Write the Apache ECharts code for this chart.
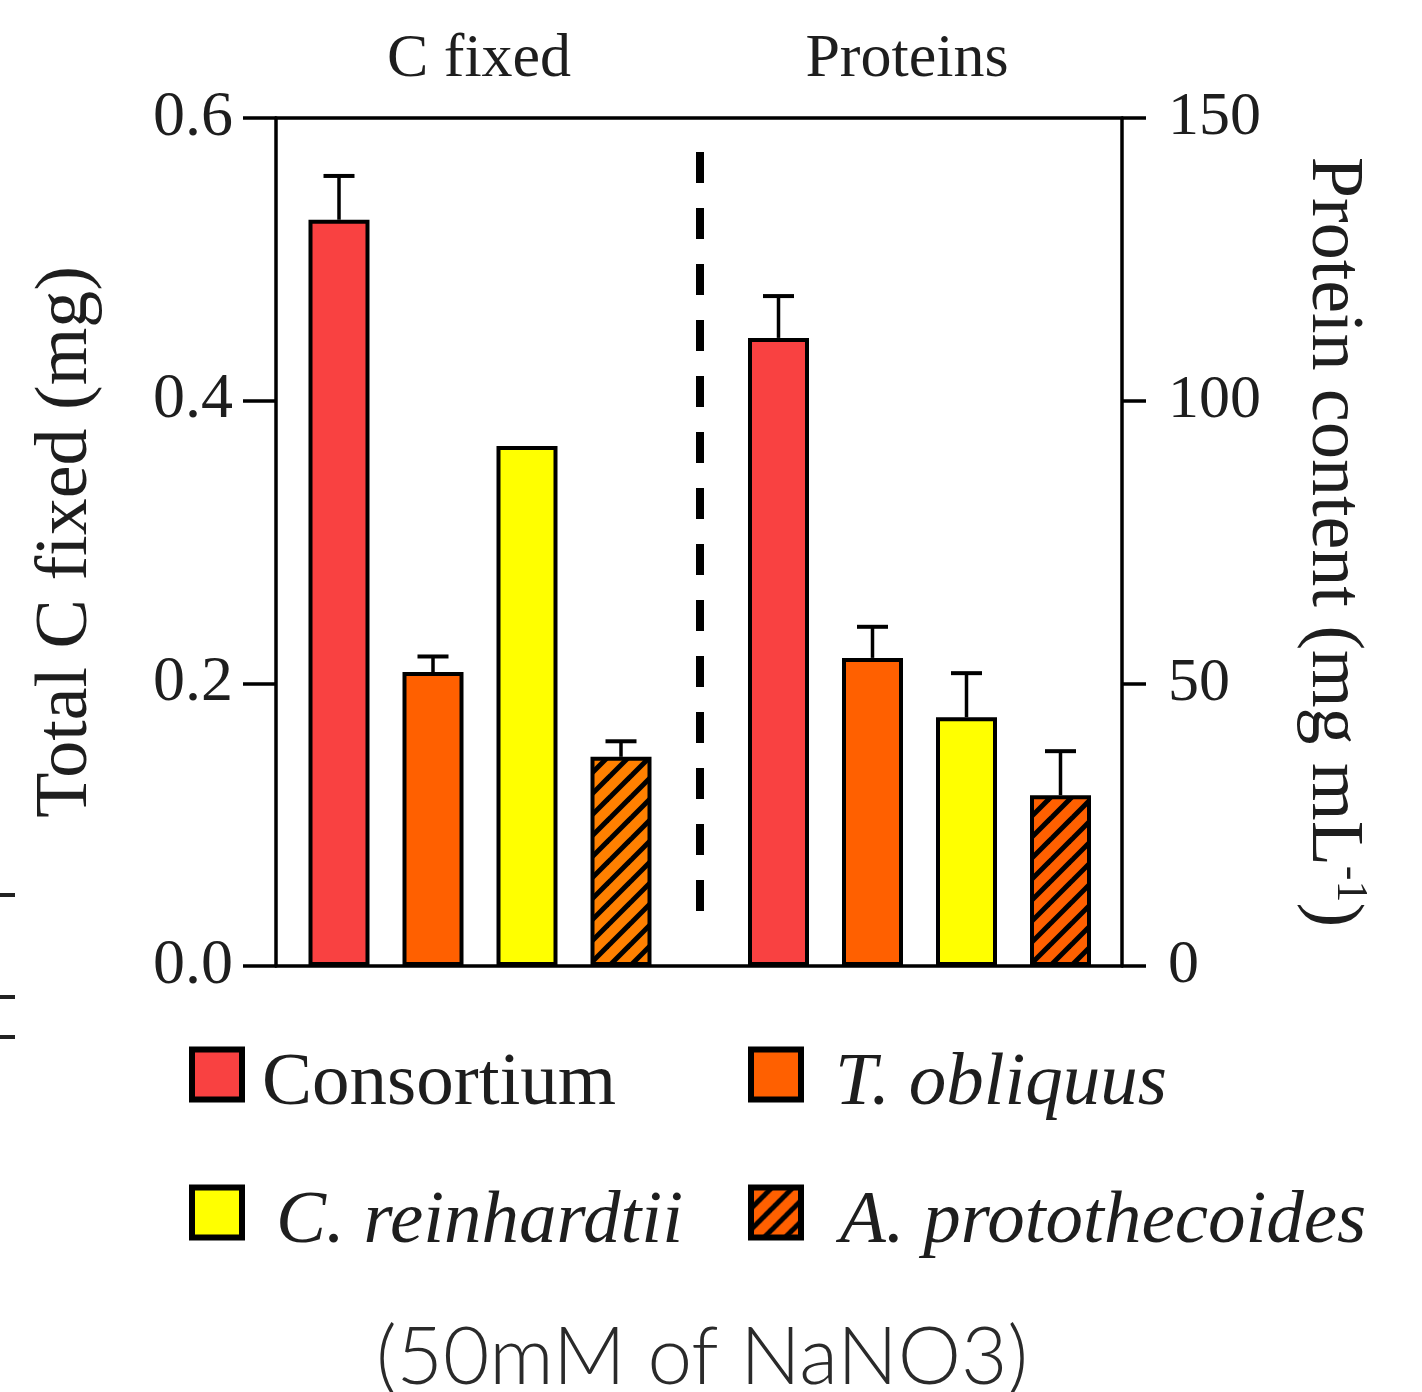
<!DOCTYPE html>
<html>
<head>
<meta charset="utf-8">
<script src="https://cdn.jsdelivr.net/npm/echarts@6/dist/echarts.min.js"></script>
<style>
html,body{margin:0;padding:0;background:#fff;}
#chart{width:1422px;height:1392px;}
</style>
</head>
<body>
<div id="chart"></div>
<script>
// ---- data ----
const species = ['Consortium', 'T. obliquus', 'C. reinhardtii', 'A. protothecoides'];
const groupTitles = ['C fixed', 'Proteins'];
const cFixed = [0.528, 0.208, 0.368, 0.148];
const cFixedErr = [0.031, 0.011, 0, 0.011];
const protein = [111.1, 54.5, 44.0, 30.2];
const proteinErr = [7.4, 5.5, 7.8, 7.8];
const leftTicks = [0.0, 0.2, 0.4, 0.6];
const rightTicks = [0, 50, 100, 150];
const footnote = '(50mM of NaNO3)';

// ---- styles ----
const SERIF = '"Liberation Serif", "Times New Roman", serif';
const TXT = '#1e1e1e';
function hatch(fill) {
  const s = 21, c = document.createElement('canvas');
  c.width = s; c.height = s;
  const ctx = c.getContext('2d');
  ctx.fillStyle = fill; ctx.fillRect(0, 0, s, s);
  ctx.strokeStyle = '#000'; ctx.lineWidth = 5;
  for (let k = -1; k <= 1; k++) {
    ctx.beginPath(); ctx.moveTo(k * s - 2, s + 2); ctx.lineTo(k * s + s + 2, -2); ctx.stroke();
  }
  return { image: c, repeat: 'repeat' };
}
const fillsLeft = ['#F94141', '#FF6000', '#FFFF00', hatch('#FF8000')];
const fillsRight = ['#F94141', '#FF6000', '#FFFF00', hatch('#FF6000')];

const chart = echarts.init(document.getElementById('chart'), null, { renderer: 'canvas' });

const PLOT_L = 276, PLOT_R = 1122, PLOT_T = 118, PLOT_B = 966;
const H = PLOT_B - PLOT_T;

function only(arr, i) { return arr.map((v, j) => (j === i ? v : '-')); }

function errRender(params, api) {
  const i = api.value(0), v = api.value(1), e = api.value(2);
  if (!(e > 0)) return;
  const b = api.coord([i, v]), t = api.coord([i, v + e]);
  return {
    type: 'group',
    children: [
      { type: 'line', shape: { x1: b[0], y1: b[1], x2: t[0], y2: t[1] }, style: { stroke: '#000', lineWidth: 3.5 } },
      { type: 'line', shape: { x1: t[0] - 15.5, y1: t[1], x2: t[0] + 15.5, y2: t[1] }, style: { stroke: '#000', lineWidth: 4 } }
    ]
  };
}

const series = [];
// right group first so legend picks its colours
[[1, protein, proteinErr, fillsRight], [0, cFixed, cFixedErr, fillsLeft]].forEach(([g, vals, errs, fills]) => {
  species.forEach((name, i) => {
    series.push({
      name: name, type: 'bar',
      xAxisIndex: g + 2, yAxisIndex: g + 2,
      data: only(vals, i),
      barWidth: 61, barGap: '-100%',
      itemStyle: { color: fills[i], borderColor: '#000', borderWidth: 4 },
      z: 2, silent: true
    });
  });
  series.push({
    type: 'custom', xAxisIndex: g + 2, yAxisIndex: g + 2,
    renderItem: errRender,
    data: vals.map((v, i) => [i, v, errs[i]]),
    z: 3, silent: true
  });
});

const hiddenAxis = { show: false };
const legendPos = [[189, 1027], [748, 1027], [189, 1165], [748, 1165]];
const legends = species.map((name, i) => ({
  icon: 'rect', itemWidth: 50, itemHeight: 50, orient: 'horizontal', padding: 0,
  itemStyle: { borderColor: '#000', borderWidth: 6 },
  selectedMode: false,
  data: [name], left: legendPos[i][0], top: legendPos[i][1],
  formatter: n => '{t|' + n + '}',
  textStyle: {
    fontFamily: SERIF, fontSize: 75, color: TXT,
    rich: { t: { fontFamily: SERIF, fontSize: 75, color: TXT, lineHeight: 50,
                 fontStyle: i === 0 ? 'normal' : 'italic',
                 padding: [20, 0, 0, i === 0 ? 15 : (i === 3 ? 34 : 29)] } }
  }
}));

const frameLine = { show: true, onZero: false, lineStyle: { color: '#000', width: 3.5 } };

const option = {
  animation: false,
  backgroundColor: '#fff',
  grid: [
    { left: PLOT_L, width: PLOT_R - PLOT_L, top: PLOT_T, height: H },
    { left: 292, width: 376, top: PLOT_T, height: H },
    { left: 731.5, width: 376, top: PLOT_T, height: H }
  ],
  xAxis: [
    { gridIndex: 0, type: 'value', min: 0, max: 1, position: 'bottom',
      axisLine: frameLine, axisTick: { show: false }, axisLabel: { show: false }, splitLine: { show: false } },
    { gridIndex: 0, type: 'value', min: 0, max: 1, position: 'top',
      axisLine: frameLine, axisTick: { show: false }, axisLabel: { show: false }, splitLine: { show: false } },
    Object.assign({ gridIndex: 1, type: 'category', data: species }, hiddenAxis),
    Object.assign({ gridIndex: 2, type: 'category', data: species }, hiddenAxis)
  ],
  yAxis: [
    { gridIndex: 0, type: 'value', position: 'left', min: leftTicks[0], max: leftTicks[leftTicks.length - 1], interval: leftTicks[1] - leftTicks[0],
      axisLine: frameLine,
      axisTick: { show: true, length: 33, lineStyle: { color: '#000', width: 3.5 } },
      axisLabel: { margin: 43, fontFamily: SERIF, fontSize: 64, color: TXT, formatter: v => v.toFixed(1) },
      splitLine: { show: false },
      name: 'Total C fixed (mg)', nameLocation: 'middle', nameGap: 172,
      nameTextStyle: { fontFamily: SERIF, fontSize: 74, color: TXT } },
    { gridIndex: 0, type: 'value', position: 'right', min: rightTicks[0], max: rightTicks[rightTicks.length - 1], interval: rightTicks[1] - rightTicks[0],
      axisLine: frameLine,
      axisTick: { show: true, length: 24, lineStyle: { color: '#000', width: 3.5 } },
      axisLabel: { margin: 46, fontFamily: SERIF, fontSize: 62, color: TXT },
      splitLine: { show: false },
      name: '{a|Protein content (mg mL}{s|-1}{a|)}', nameLocation: 'middle', nameGap: 170, nameRotate: -90,
      nameTextStyle: { fontFamily: SERIF, fontSize: 74, color: TXT,
        rich: { a: { fontFamily: SERIF, fontSize: 74, color: TXT, lineHeight: 80 },
                s: { fontFamily: SERIF, fontSize: 44, color: TXT, verticalAlign: 'top', lineHeight: 80 } } } },
    Object.assign({ gridIndex: 1, type: 'value', min: leftTicks[0], max: leftTicks[leftTicks.length - 1] }, hiddenAxis),
    Object.assign({ gridIndex: 2, type: 'value', min: rightTicks[0], max: rightTicks[rightTicks.length - 1] }, hiddenAxis)
  ],
  legend: legends,
  graphic: [
    { type: 'text', x: 479, y: 60, style: { text: groupTitles[0], font: '62px ' + SERIF, fill: TXT, textAlign: 'center', textVerticalAlign: 'middle' } },
    { type: 'text', x: 907, y: 60, style: { text: groupTitles[1], font: '62px ' + SERIF, fill: TXT, textAlign: 'center', textVerticalAlign: 'middle' } },
    { type: 'line', shape: { x1: 700, y1: 152, x2: 700, y2: 911 }, style: { stroke: '#000', lineWidth: 8, lineDash: [31, 25] } },
    { type: 'text', x: 702, y: 1358, style: { text: footnote, font: '300 80px Lato, "Noto Sans", sans-serif', fill: '#2a2a2a', textAlign: 'center', textVerticalAlign: 'middle' } },
    { type: 'rect', shape: { x: 0, y: 893, width: 15, height: 4 }, style: { fill: '#222' } },
    { type: 'rect', shape: { x: 0, y: 995, width: 15, height: 4 }, style: { fill: '#222' } },
    { type: 'rect', shape: { x: 0, y: 1035, width: 15, height: 4 }, style: { fill: '#222' } }
  ],
  series: series
};
chart.setOption(option);
</script>
</body>
</html>
